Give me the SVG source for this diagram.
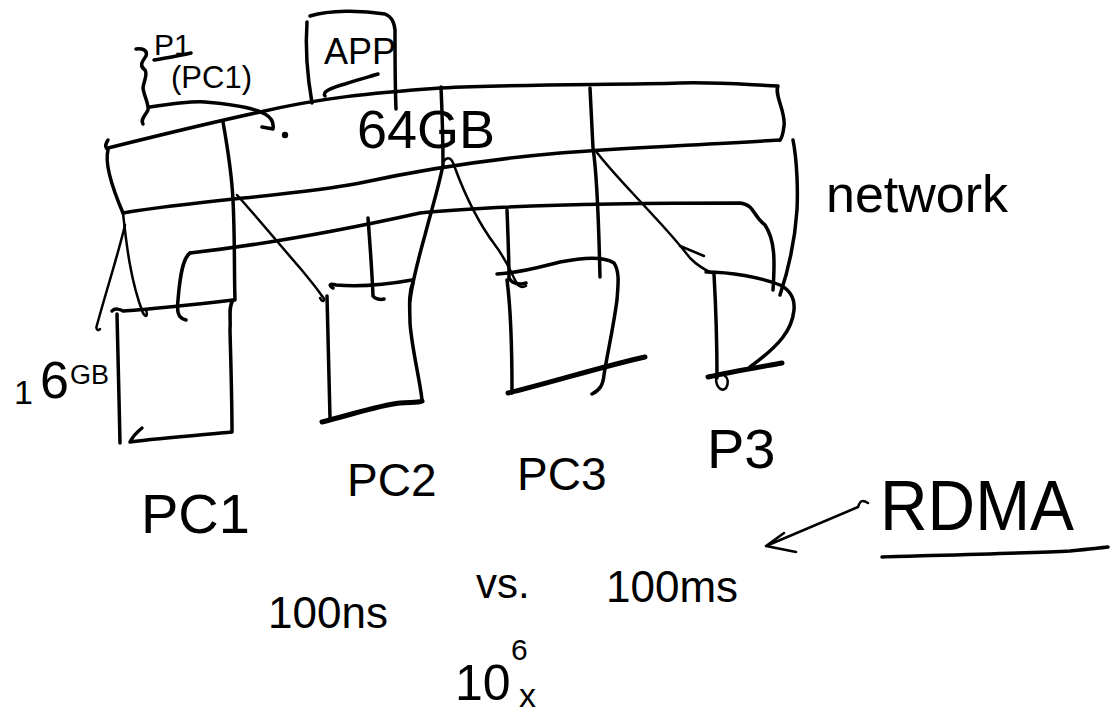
<svg xmlns="http://www.w3.org/2000/svg" width="1120" height="716" viewBox="0 0 1120 716">
  <style>
    .s { fill: none; stroke: #000; stroke-width: 3.5; stroke-linecap: round; stroke-linejoin: round; }
    .t { fill: none; stroke: #000; stroke-width: 2.5; stroke-linecap: round; stroke-linejoin: round; }
    .b { fill: none; stroke: #000; stroke-width: 5; stroke-linecap: round; stroke-linejoin: round; }
    text { font-family: "Liberation Sans", Arial, sans-serif; fill: #000; }
  </style>
  <rect width="1120" height="716" fill="#fff"/>

  <!-- shared 64GB memory band with its network band below -->
  <g id="memory-pool">
    <path class="s" d="M108,140 C104,146 106,148 108,150 C104,165 114,192 123,213"/>
    <path class="s" d="M108,148 C140,140 200,125 260,112 C320,98 370,93 441,88 C520,84 620,85 680,83 C720,82 750,85 778,86 C774,95 786,112 784,126 C783,134 782,138 780,140"/>
    <path class="s" d="M780,140 C700,145 620,148 560,153 C480,160 420,170 360,183 C300,195 200,200 123,213"/>
    <path class="s" d="M190,253 C260,245 330,233 420,213 C500,205 620,203 740,203 C755,205 752,215 765,225 C775,240 775,260 773,290"/>
    <path class="s" d="M190,253 C183,258 180,275 178,300 C177,310 177,318 186,320"/>
    <path class="s" d="M223,122 C228,150 232,180 233,200 C235,240 234,270 235,300"/>
    <path class="s" d="M441,87 C442,110 443,140 443,165 C438,190 430,215 425,235 C418,260 412,285 410,300"/>
    <path class="s" d="M590,88 C591,110 592,130 593,148 C598,180 599,240 600,277"/>
    <circle cx="285" cy="135" r="3.2" fill="#000"/>
    <text x="357" y="148" font-size="54">64GB</text>
  </g>

  <!-- application box sitting on the pool -->
  <g id="app">
    <path class="s" d="M307,22 C305,50 308,80 312,103"/>
    <path class="s" d="M310,16 C330,10 360,10 385,14 C392,17 394,22 395,30 C395,60 395,85 396,109"/>
    <path class="s" d="M325,96 C322,92 330,88 345,84 C360,79 372,76 378,74"/>
    <text x="324" y="64" font-size="36">APP</text>
  </g>

  <!-- P1 (PC1) annotation with brace and arrow into the pool -->
  <g id="p1-note">
    <path class="s" d="M136,49 C142,48 148,50 146,56 C142,62 139,66 145,70 C148,74 144,80 143,88 C144,96 149,104 148,110 C145,116 140,120 143,124"/>
    <text x="154" y="55" font-size="30">P1</text>
    <path class="s" d="M154,60 C165,58 178,56 191,53"/>
    <text x="171" y="88" font-size="31">(PC1)</text>
  </g>

  <!-- machines -->
  <g id="pc1">
    <path class="s" d="M112,311 C115,308 120,309 123,311 C150,309 190,305 233,300 C228,308 231,316 230,330 C231,370 232,400 232,432 C200,435 160,438 130,442 C133,436 137,432 142,428"/>
    <path class="s" d="M117,314 C118,350 119,400 120,443"/>
    <text x="141" y="533" font-size="56">PC1</text>
  </g>
  <g id="pc1-size">
    <text font-size="34"><tspan x="14" y="404">1</tspan><tspan x="40" y="398" font-size="52">6</tspan><tspan x="70" y="384" font-size="27">GB</tspan></text>
  </g>

  <g id="pc2">
    <path class="s" d="M333,288 C328,285 330,283 336,285 C360,287 390,284 412,280"/>
    <path class="s" d="M327,296 C328,340 329,380 330,418"/>
    <path class="b" d="M322,422 C350,415 380,405 400,403 C410,402 418,403 422,401"/>
    <path class="s" d="M413,282 C408,295 410,310 410,323 C412,350 420,380 422,400"/>
    <text x="347" y="496" font-size="46">PC2</text>
  </g>

  <g id="pc3">
    <path class="s" d="M497,274 C520,273 540,267 560,262 C585,257 605,257 614,263 C620,272 618,285 617,300 C613,330 607,355 604,375 C603,385 600,390 592,394"/>
    <path class="s" d="M507,280 C511,310 512,350 512,393"/>
    <path class="b" d="M508,393 C550,383 600,367 645,357"/>
    <text x="517" y="490" font-size="46">PC3</text>
  </g>

  <g id="p3">
    <path class="s" d="M714,274 C716,310 717,350 717,378"/>
    <path class="s" d="M706,272 C730,272 760,277 780,285 C790,290 795,298 794,310 C792,330 780,345 750,367"/>
    <path class="b" d="M708,377 C730,372 760,367 782,363"/>
    <path class="t" d="M716,378 C716,388 722,392 726,388 C729,383 728,378 725,376"/>
    <text x="707" y="468" font-size="56">P3</text>
  </g>

  <!-- links between the pool, the network band and the machines -->
  <g id="connectors">
    <path class="t" d="M125,225 C118,255 105,295 97,325 C95,330 99,331 100,329"/>
    <path class="t" d="M123,213 C126,240 130,280 143,313 C146,318 148,316 146,310"/>
    <path class="t" d="M237,195 C255,215 280,245 300,268 C310,280 318,290 322,296 C326,300 323,304 320,298"/>
    <path class="s" d="M368,218 C370,245 372,270 373,296 C375,299 380,300 384,299"/>
    <path class="t" d="M443,162 C448,155 452,158 455,168 C465,195 480,225 495,245 C505,258 510,270 515,280 C518,287 522,288 526,286"/>
    <path class="s" d="M507,210 C508,235 509,260 509,278 C512,284 520,285 526,283"/>
    <path class="t" d="M595,150 C610,170 630,190 650,212 C665,228 680,245 690,258 C698,266 705,270 712,273"/>
    <path class="t" d="M680,246 L704,256"/>
    <path class="s" d="M793,140 C797,160 798,190 797,210 C795,240 790,265 780,295"/>
    <path class="s" d="M150,107 C170,104 190,101 205,102 C230,104 252,107 265,114 C272,118 274,123 273,129 M262,127 L273,129"/>
    <path class="t" d="M868,503 C862,499 860,501 858,507 L766,546 M766,546 L784,533 M766,546 L796,552"/>
  </g>

  <g id="network-label">
    <text x="826" y="212" font-size="52">network</text>
  </g>

  <g id="rdma">
    <text x="880" y="530" font-size="70" textLength="194" lengthAdjust="spacingAndGlyphs">RDMA</text>
    <path class="s" d="M882,557 C950,555 1030,553 1070,551 C1090,549 1100,548 1108,547"/>
  </g>

  <g id="latency">
    <text x="268" y="628" font-size="44">100ns</text>
    <text x="476" y="598" font-size="42">vs.</text>
    <text x="606" y="602" font-size="44">100ms</text>
    <text x="455" y="700" font-size="50">10</text>
    <text x="511" y="660" font-size="30">6</text>
    <text x="519" y="707" font-size="34">x</text>
  </g>
</svg>
